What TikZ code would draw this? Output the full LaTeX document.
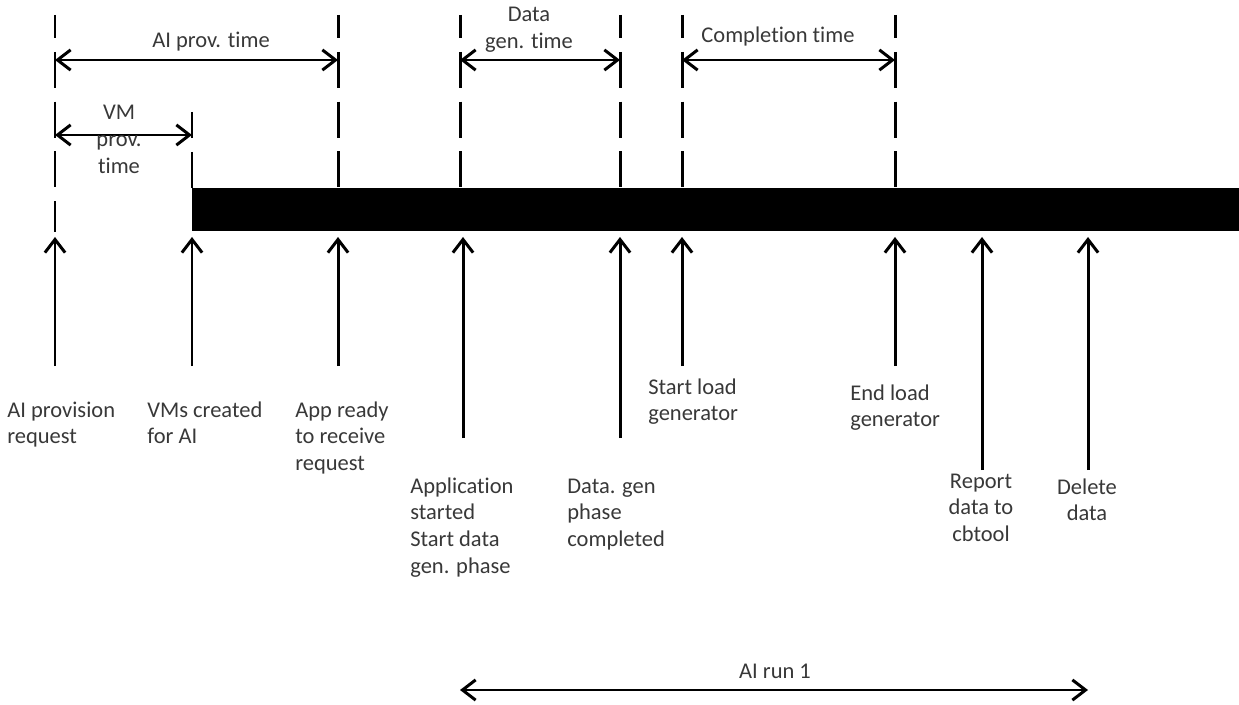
\documentclass[tikz,border=0pt]{standalone}
\usepackage{fontspec}
\setmainfont{Carlito}[Ligatures=NoCommon]
\usetikzlibrary{arrows.meta}
\newcommand\tabLeft[1]{\begin{tabular}[t]{@{}l@{}}#1\end{tabular}}
\newcommand\tabCent[1]{\begin{tabular}[t]{@{}c@{}}#1\end{tabular}}
\begin{document}
\begin{tikzpicture}[x=0.02cm,y=-0.02cm,
  lbl/.style={inner sep=0pt,text=black!78,font=\fontsize{12.8}{15.3}\selectfont},
  lblL/.style={lbl,anchor=base west},
  lblC/.style={lbl,anchor=base},
  tick/.style={line width=1.7pt,dash pattern=on 20.41pt off 7.94pt,dash phase=7.37pt},
  dimarrow/.style={line width=1.7pt,{Straight Barb[length=7.5pt,width=11.5pt]}-{Straight Barb[length=7.5pt,width=11.5pt]}},
  uparrow/.style={line width=1.7pt,-{Straight Barb[length=7.5pt,width=11.5pt]}}]
\useasboundingbox (0,0) rectangle (1239,705);
% timeline bar
\node[fill=black,inner sep=0pt,minimum width=1047*0.02cm,minimum height=43*0.02cm,anchor=north west] (bar) at (192,188) {};
% dashed markers
\coordinate (d1t) at (55,15);   \coordinate (d1b) at (55,232);
\coordinate (d2t) at (192,112); \coordinate (d2b) at (192,188);
\coordinate (d3t) at (338,15);  \coordinate (d3b) at (338,188);
\coordinate (d4t) at (460,15);  \coordinate (d4b) at (460,188);
\coordinate (d5t) at (620,15);  \coordinate (d5b) at (620,188);
\coordinate (d6t) at (682,15);  \coordinate (d6b) at (682,188);
\coordinate (d7t) at (895,15);  \coordinate (d7b) at (895,188);
\draw[tick] (d1t) -- (d1b);
\draw[tick,dash phase=5.67pt] (d2t) -- (d2b);
\draw[tick] (d3t) -- (d3b);
\draw[tick] (d4t) -- (d4b);
\draw[tick] (d5t) -- (d5b);
\draw[tick] (d6t) -- (d6b);
\draw[tick] (d7t) -- (d7b);
% interval arrows
\coordinate (ap1) at (55,60);  \coordinate (ap2) at (338,60);
\coordinate (vm1) at (55,135); \coordinate (vm2) at (192,135);
\coordinate (dg1) at (460,60); \coordinate (dg2) at (620,60);
\coordinate (ct1) at (682,60); \coordinate (ct2) at (895,60);
\coordinate (ar1) at (460,690); \coordinate (ar2) at (1088,690);
\draw[dimarrow] (ap1) -- (ap2);
\draw[dimarrow] (vm1) -- (vm2);
\draw[dimarrow] (dg1) -- (dg2);
\draw[dimarrow] (ct1) -- (ct2);
\draw[dimarrow] (ar1) -- (ar2);
\node[lblC] (lap) at (211,48) {AI prov. time};
\node[lblC] (lvm) at (119,120) {\tabCent{VM\\prov.\\time}};
\node[lblC] (ldg) at (529,22) {\tabCent{Data\\gen. time}};
\node[lblC] (lct) at (778,43) {Completion time};
\node[lblC] (lar) at (775,678) {AI run 1};
% event arrows
\coordinate (e1t) at (55,237);   \coordinate (e1b) at (55,366);
\coordinate (e2t) at (192,237);  \coordinate (e2b) at (192,366);
\coordinate (e3t) at (338,237);  \coordinate (e3b) at (338,366);
\coordinate (e4t) at (463,237);  \coordinate (e4b) at (463,438);
\coordinate (e5t) at (620,237);  \coordinate (e5b) at (620,438);
\coordinate (e6t) at (682,237);  \coordinate (e6b) at (682,366);
\coordinate (e7t) at (895,237);  \coordinate (e7b) at (895,366);
\coordinate (e8t) at (982,237);  \coordinate (e8b) at (982,470);
\coordinate (e9t) at (1088,237); \coordinate (e9b) at (1088,470);
\foreach \i in {1,...,9} {\draw[uparrow] (e\i b) -- (e\i t);}
% event labels
\node[lblL] (n1) at (7,417) {\tabLeft{AI provision\\request}};
\node[lblL] (n2) at (147,417) {\tabLeft{VMs created\\for AI}};
\node[lblL] (n3) at (295,417) {\tabLeft{App ready\\to receive\\request}};
\node[lblL] (n4) at (410,493) {\tabLeft{Application\\started\\Start data\\gen. phase}};
\node[lblL] (n5) at (567,493) {\tabLeft{Data. gen\\phase\\completed}};
\node[lblL] (n6) at (648,394) {\tabLeft{Start load\\generator}};
\node[lblL] (n7) at (850,400) {\tabLeft{End load\\generator}};
\node[lblC] (n8) at (981,488) {\tabCent{Report\\data to\\cbtool}};
\node[lblC] (n9) at (1087,494) {\tabCent{Delete\\data}};
\end{tikzpicture}
\end{document}
